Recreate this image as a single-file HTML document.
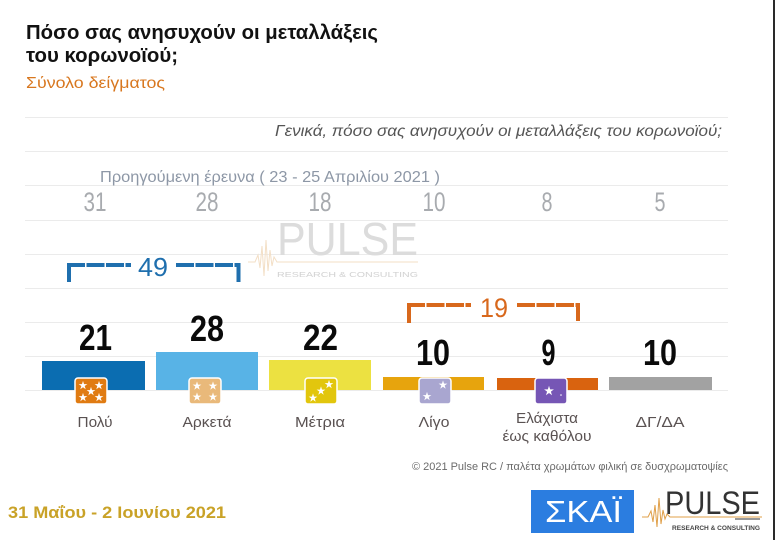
<!DOCTYPE html>
<html><head><meta charset="utf-8"><style>
html,body{margin:0;padding:0;background:#fff;}
svg{display:block;}
text{font-family:"Liberation Sans",sans-serif;}
</style></head><body>
<svg width="777" height="540" viewBox="0 0 777 540" xmlns="http://www.w3.org/2000/svg">
<rect width="777" height="540" fill="#fff"/>
<!-- grid -->
<g stroke="#ebebeb" stroke-width="1">
<line x1="25" y1="117.5" x2="728" y2="117.5"/>
<line x1="25" y1="151.5" x2="728" y2="151.5"/>
<line x1="25" y1="185.5" x2="728" y2="185.5"/>
<line x1="25" y1="220.5" x2="728" y2="220.5"/>
<line x1="25" y1="254.5" x2="728" y2="254.5"/>
<line x1="25" y1="288.5" x2="728" y2="288.5"/>
<line x1="25" y1="322.5" x2="728" y2="322.5"/>
<line x1="25" y1="356.5" x2="728" y2="356.5"/>
<line x1="25" y1="390.5" x2="728" y2="390.5"/>
</g>
<!-- right border -->
<rect x="773" y="0" width="2" height="540" fill="#2a2a2a"/>

<!-- title -->
<text x="26" y="39" font-size="20" font-weight="bold" fill="#111" textLength="352" lengthAdjust="spacingAndGlyphs">Πόσο σας ανησυχούν οι μεταλλάξεις</text>
<text x="26" y="62" font-size="20" font-weight="bold" fill="#111" textLength="152" lengthAdjust="spacingAndGlyphs">του κορωνοϊού;</text>
<text x="26" y="88" font-size="16" fill="#d8771f" textLength="139" lengthAdjust="spacingAndGlyphs">Σύνολο δείγματος</text>

<text x="275" y="136" font-size="16" font-style="italic" fill="#555" textLength="447" lengthAdjust="spacingAndGlyphs">Γενικά, πόσο σας ανησυχούν οι μεταλλάξεις του κορωνοϊού;</text>
<text x="100" y="182" font-size="16" fill="#8d97a6" textLength="340" lengthAdjust="spacingAndGlyphs">Προηγούμενη έρευνα  ( 23 - 25 Απριλίου 2021 )</text>

<!-- previous numbers -->
<g font-size="27" fill="#a8abaf" text-anchor="middle">
<text x="95" y="211" textLength="23" lengthAdjust="spacingAndGlyphs">31</text>
<text x="207" y="211" textLength="23" lengthAdjust="spacingAndGlyphs">28</text>
<text x="320" y="211" textLength="23" lengthAdjust="spacingAndGlyphs">18</text>
<text x="434" y="211" textLength="23" lengthAdjust="spacingAndGlyphs">10</text>
<text x="547" y="211" textLength="11" lengthAdjust="spacingAndGlyphs">8</text>
<text x="660" y="211" textLength="11" lengthAdjust="spacingAndGlyphs">5</text>
</g>

<!-- watermark -->
<polyline points="248,262 255,262 258,255 260,268 262,246 264,276 266,240 268,271 270,250 272,266 274,257 277,262 418,262" fill="none" stroke="#f3dfc6" stroke-width="1"/>
<text x="277" y="255" font-size="46" fill="#dcdcdc" textLength="141" lengthAdjust="spacingAndGlyphs">PULSE</text>
<text x="277" y="277" font-size="7.5" fill="#d2d2d2" textLength="141" lengthAdjust="spacingAndGlyphs">RESEARCH &amp; CONSULTING</text>

<!-- blue bracket -->
<g stroke="#1f6fae" stroke-width="4" fill="none">
<line x1="69" y1="263" x2="69" y2="282"/>
<line x1="238.5" y1="263" x2="238.5" y2="282"/>
<line x1="67" y1="265" x2="131" y2="265" stroke-dasharray="18,1.5"/>
<line x1="176" y1="265" x2="240" y2="265" stroke-dasharray="18,1.5"/>
</g>
<text x="153" y="276" font-size="26" fill="#1f6fae" text-anchor="middle" textLength="30" lengthAdjust="spacingAndGlyphs">49</text>

<!-- orange bracket -->
<g stroke="#d8681c" stroke-width="4" fill="none">
<line x1="409" y1="303" x2="409" y2="323"/>
<line x1="578" y1="303" x2="578" y2="321"/>
<line x1="407" y1="305" x2="471" y2="305" stroke-dasharray="18,1.5"/>
<line x1="517" y1="305" x2="580" y2="305" stroke-dasharray="18,1.5"/>
</g>
<text x="494" y="317" font-size="27" fill="#d8681c" text-anchor="middle" textLength="28" lengthAdjust="spacingAndGlyphs">19</text>

<!-- bars -->
<rect x="42" y="361" width="103" height="29" fill="#0b6db1"/>
<rect x="156" y="352" width="102" height="38" fill="#58b3e6"/>
<rect x="269" y="360" width="102" height="30" fill="#ece141"/>
<rect x="383" y="377" width="101" height="13" fill="#e7a40d"/>
<rect x="497" y="378" width="101" height="12" fill="#d9630f"/>
<rect x="609" y="377" width="103" height="13" fill="#a2a2a2"/>

<!-- value labels -->
<g font-size="36" font-weight="bold" fill="#0a0a0a" text-anchor="middle">
<text x="95.5" y="350" textLength="33" lengthAdjust="spacingAndGlyphs">21</text>
<text x="207" y="341" textLength="34" lengthAdjust="spacingAndGlyphs">28</text>
<text x="320.5" y="350" textLength="35" lengthAdjust="spacingAndGlyphs">22</text>
<text x="433" y="365" textLength="34" lengthAdjust="spacingAndGlyphs">10</text>
<text x="548.5" y="365" textLength="14" lengthAdjust="spacingAndGlyphs">9</text>
<text x="660" y="365" textLength="34" lengthAdjust="spacingAndGlyphs">10</text>
</g>

<!-- icons -->
<g stroke="#fff" stroke-width="1.5">
<rect x="75" y="378" width="32" height="26" rx="3" fill="#e07b12"/>
<rect x="189" y="378" width="32" height="26" rx="3" fill="#e9b97a"/>
<rect x="305" y="378" width="32" height="26" rx="3" fill="#e2c60d"/>
<rect x="419" y="378" width="32" height="26" rx="3" fill="#a9a6d0"/>
<rect x="535" y="378" width="32" height="26" rx="3" fill="#7656b5"/>
</g>
<g fill="#fff">
<polygon transform="translate(83,385.5) scale(4.6)" points="0,-1 0.2245,-0.309 0.951,-0.309 0.363,0.118 0.588,0.809 0,0.382 -0.588,0.809 -0.363,0.118 -0.951,-0.309 -0.2245,-0.309"/>
<polygon transform="translate(99,385.5) scale(4.6)" points="0,-1 0.2245,-0.309 0.951,-0.309 0.363,0.118 0.588,0.809 0,0.382 -0.588,0.809 -0.363,0.118 -0.951,-0.309 -0.2245,-0.309"/>
<polygon transform="translate(91,391.5) scale(4.6)" points="0,-1 0.2245,-0.309 0.951,-0.309 0.363,0.118 0.588,0.809 0,0.382 -0.588,0.809 -0.363,0.118 -0.951,-0.309 -0.2245,-0.309"/>
<polygon transform="translate(83,397.5) scale(4.6)" points="0,-1 0.2245,-0.309 0.951,-0.309 0.363,0.118 0.588,0.809 0,0.382 -0.588,0.809 -0.363,0.118 -0.951,-0.309 -0.2245,-0.309"/>
<polygon transform="translate(99,397.5) scale(4.6)" points="0,-1 0.2245,-0.309 0.951,-0.309 0.363,0.118 0.588,0.809 0,0.382 -0.588,0.809 -0.363,0.118 -0.951,-0.309 -0.2245,-0.309"/>

<polygon transform="translate(197,386) scale(4.6)" points="0,-1 0.2245,-0.309 0.951,-0.309 0.363,0.118 0.588,0.809 0,0.382 -0.588,0.809 -0.363,0.118 -0.951,-0.309 -0.2245,-0.309"/>
<polygon transform="translate(213,386) scale(4.6)" points="0,-1 0.2245,-0.309 0.951,-0.309 0.363,0.118 0.588,0.809 0,0.382 -0.588,0.809 -0.363,0.118 -0.951,-0.309 -0.2245,-0.309"/>
<polygon transform="translate(197,397) scale(4.6)" points="0,-1 0.2245,-0.309 0.951,-0.309 0.363,0.118 0.588,0.809 0,0.382 -0.588,0.809 -0.363,0.118 -0.951,-0.309 -0.2245,-0.309"/>
<polygon transform="translate(213,397) scale(4.6)" points="0,-1 0.2245,-0.309 0.951,-0.309 0.363,0.118 0.588,0.809 0,0.382 -0.588,0.809 -0.363,0.118 -0.951,-0.309 -0.2245,-0.309"/>

<polygon transform="translate(313,398) scale(4.6)" points="0,-1 0.2245,-0.309 0.951,-0.309 0.363,0.118 0.588,0.809 0,0.382 -0.588,0.809 -0.363,0.118 -0.951,-0.309 -0.2245,-0.309"/>
<polygon transform="translate(321,391) scale(4.6)" points="0,-1 0.2245,-0.309 0.951,-0.309 0.363,0.118 0.588,0.809 0,0.382 -0.588,0.809 -0.363,0.118 -0.951,-0.309 -0.2245,-0.309"/>
<polygon transform="translate(329,384.5) scale(4.6)" points="0,-1 0.2245,-0.309 0.951,-0.309 0.363,0.118 0.588,0.809 0,0.382 -0.588,0.809 -0.363,0.118 -0.951,-0.309 -0.2245,-0.309"/>

<polygon transform="translate(443,385) scale(4.6)" points="0,-1 0.2245,-0.309 0.951,-0.309 0.363,0.118 0.588,0.809 0,0.382 -0.588,0.809 -0.363,0.118 -0.951,-0.309 -0.2245,-0.309"/>
<polygon transform="translate(427,396.5) scale(4.6)" points="0,-1 0.2245,-0.309 0.951,-0.309 0.363,0.118 0.588,0.809 0,0.382 -0.588,0.809 -0.363,0.118 -0.951,-0.309 -0.2245,-0.309"/>

<polygon transform="translate(549,391) scale(5.2)" points="0,-1 0.2245,-0.309 0.951,-0.309 0.363,0.118 0.588,0.809 0,0.382 -0.588,0.809 -0.363,0.118 -0.951,-0.309 -0.2245,-0.309"/>
<circle cx="561" cy="395" r="0.8"/>
</g>

<!-- category labels -->
<g font-size="15" fill="#5a5252" text-anchor="middle">
<text x="95" y="427" textLength="35" lengthAdjust="spacingAndGlyphs">Πολύ</text>
<text x="207" y="427" textLength="49" lengthAdjust="spacingAndGlyphs">Αρκετά</text>
<text x="320" y="427" textLength="50" lengthAdjust="spacingAndGlyphs">Μέτρια</text>
<text x="434" y="427" textLength="31" lengthAdjust="spacingAndGlyphs">Λίγο</text>
<text x="547" y="423" textLength="62" lengthAdjust="spacingAndGlyphs">Ελάχιστα</text>
<text x="547" y="441" textLength="89" lengthAdjust="spacingAndGlyphs">έως καθόλου</text>
<text x="660" y="427" textLength="49" lengthAdjust="spacingAndGlyphs">ΔΓ/ΔΑ</text>
</g>

<!-- footer -->
<text x="728" y="470" font-size="11" fill="#6a6a6a" text-anchor="end" textLength="316" lengthAdjust="spacingAndGlyphs">© 2021 Pulse RC  /  παλέτα χρωμάτων φιλική σε δυσχρωματοψίες</text>
<text x="8" y="518" font-size="17" font-weight="bold" fill="#c9a227" textLength="218" lengthAdjust="spacingAndGlyphs">31 Μαΐου - 2 Ιουνίου 2021</text>

<!-- SKAI logo -->
<rect x="531" y="490" width="103" height="43" fill="#2b7de0"/>
<text x="545" y="522" font-size="31" fill="#fff" textLength="77" lengthAdjust="spacingAndGlyphs">ΣΚΑΪ</text>

<!-- PULSE logo -->
<polyline points="642,517 648,517 651,511 653,522 655,505 657,527 659,498 661,524 663,510 665,519 667,514 670,517 762,517" fill="none" stroke="#e0a04a" stroke-width="1"/>
<text x="665" y="514" font-size="32" fill="#333" textLength="95" lengthAdjust="spacingAndGlyphs">PULSE</text>
<rect x="735" y="518" width="25" height="2" fill="#999"/>
<text x="672" y="530" font-size="6" font-weight="bold" fill="#444" textLength="88" lengthAdjust="spacingAndGlyphs">RESEARCH &amp; CONSULTING</text>
</svg>
</body></html>
